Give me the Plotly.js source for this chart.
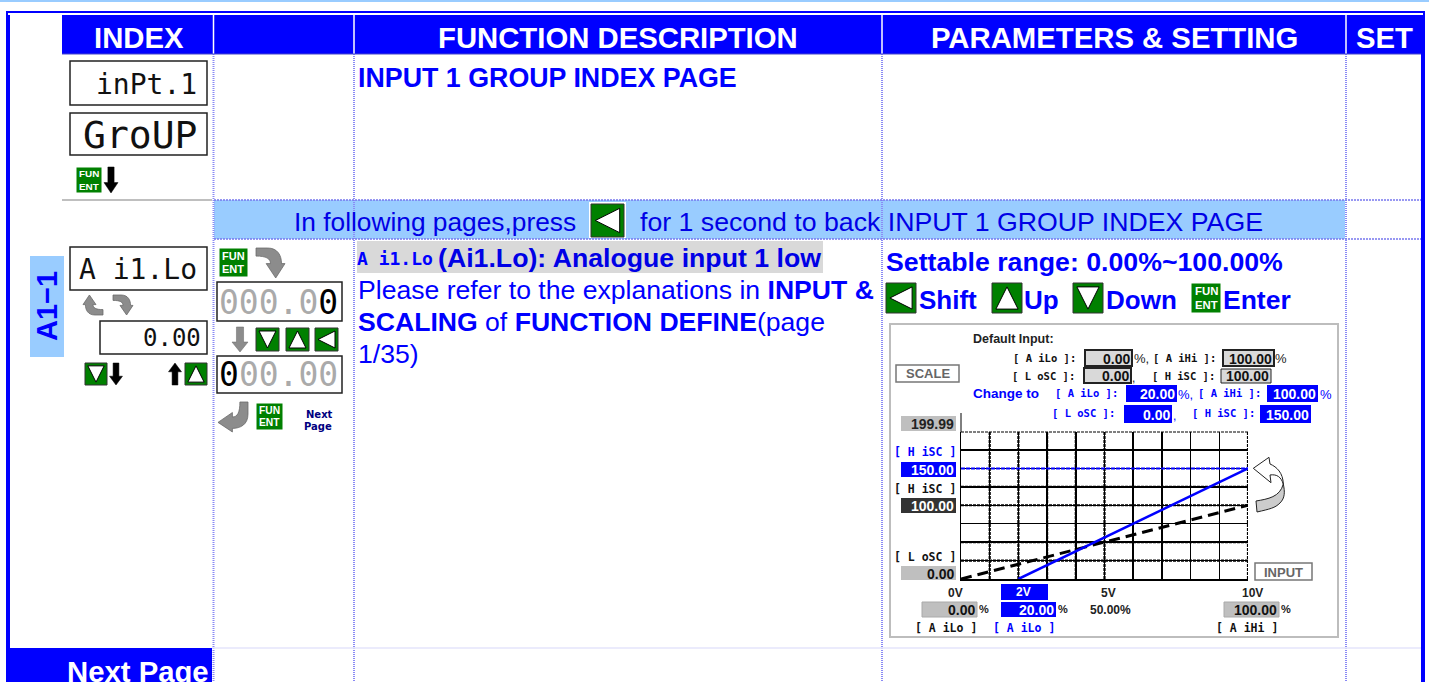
<!DOCTYPE html>
<html><head><meta charset="utf-8">
<script src="https://cdn.plot.ly/plotly-3.0.1.min.js"></script>
<style>html,body{margin:0;padding:0;background:#fff;overflow:hidden}#c{width:1429px;height:682px}</style>
</head><body><div id="c"></div>
<script>
// ---- chart values ----
const defaultVolts = [0, 10];
const defaultScale = [0, 100];
const changedVolts = [2, 10];
const changedScale = [0, 150];
const scaleLineVolts = [0, 10];
const scaleLineValue = [150, 150];
const voltTicks = [0,1,2,3,4,5,6,7,8,9,10];
const scaleTicks = [0,25,50,75,100,125,150,175,200];
const heavyVolts = [1,2,3,4,5,10];
const heavyScale = [25,50,100,125,200];
// ---- table text ----
const headers = ["INDEX","FUNCTION DESCRIPTION","PARAMETERS & SETTING","SET"];
const BLUE='#0000ff', SANS='"Liberation Sans",Arial,sans-serif', LCD='"DejaVu Sans Mono",monospace', W=1429, H=682;
const shapes=[], annotations=[];
const X=x=>x/W, Y=y=>1-y/H;
function rect(x0,y0,x1,y1,fill,line,lw){shapes.push({type:'rect',xref:'paper',yref:'paper',x0:X(x0),x1:X(x1),y0:Y(y0),y1:Y(y1),fillcolor:fill||'rgba(0,0,0,0)',line:{color:line||'rgba(0,0,0,0)',width:line?(lw||1):0},layer:'below'});}
function line(x0,y0,x1,y1,color,w,dash){shapes.push({type:'line',xref:'paper',yref:'paper',x0:X(x0),x1:X(x1),y0:Y(y0),y1:Y(y1),line:{color:color,width:w||1,dash:dash||'solid'},layer:'below'});}
function path(pts,fill,lc,lw){
  const d=pts.map(t=>Array.isArray(t)?X(t[0]).toFixed(5)+' '+Y(t[1]).toFixed(5):t).join(' ');
  shapes.push({type:'path',xref:'paper',yref:'paper',path:d,fillcolor:fill,line:{color:lc||fill,width:lw==null?1:lw},layer:'below'});
}
function T(text,x,y,size,color,anchor,o){o=o||{};annotations.push({xref:'paper',yref:'paper',x:X(x),y:Y(y),text:text,showarrow:false,xanchor:anchor||'center',yanchor:'middle',borderpad:0,borderwidth:0,textangle:o.angle||0,font:{family:o.family||SANS,size:size,color:color||BLUE}});}
function B(s){return '<b>'+s+'</b>';}
function key(x,y,s,dir){
  rect(x,y,x+s,y+s,'#008000','#333',1);
  const m=s*0.13,a=x+m,b=x+s-m,c=y+m,d=y+s-m,mx=x+s/2,my=y+s/2;
  let t;
  if(dir==='up')t=[[mx,c],[b,d],[a,d]];
  if(dir==='down')t=[[a,c],[b,c],[mx,d]];
  if(dir==='left')t=[[a,my],[b,c],[b,d]];
  path(['M',t[0],'L',t[1],'L',t[2],'Z'],'#fff','#000',1);
}
function fun(x,y,s){
  rect(x,y,x+s,y+s,'#008000','#ffffff',1);
  T(B('FUN'),x+s/2,y+s*0.26,s*0.38,'#fff');
  T(B('ENT'),x+s/2,y+s*0.74,s*0.38,'#fff');
}
function bent(x,y,w,h,o){
  o=o||{};
  const u=(a,b)=>{let p=a,q=b;if(o.swap){p=b;q=a;} if(o.fx)p=1-p; if(o.fy)q=1-q; return [x+p*w,y+q*h];};
  path(['M',u(0,0),'L',u(.4,0),'C',u(.75,0),u(.88,.25),u(.88,.52),'L',u(1,.52),'L',u(.68,1),'L',u(.35,.52),'L',u(.5,.52),'C',u(.5,.35),u(.35,.27),u(0,.27),'Z'],'#8c8c8c','#666',.75);
}
function arrowV(cx,y0,y1,w,color,up){
  const hw=w/2,sw=w/4.5,h=(y1-y0)*0.4;
  const pts=up?[[cx,y0],[cx+hw,y0+h],[cx+sw,y0+h],[cx+sw,y1],[cx-sw,y1],[cx-sw,y0+h],[cx-hw,y0+h]]
              :[[cx,y1],[cx+hw,y1-h],[cx+sw,y1-h],[cx+sw,y0],[cx-sw,y0],[cx-sw,y1-h],[cx-hw,y1-h]];
  const d=[];pts.forEach((p,i)=>{d.push(i?'L':'M',p);});d.push('Z');path(d,color,color==='#000'?'#000':'#666',.5);
}
function lbox(x0,y0,x1,y1,fill,text,color,size,border,bw){
  rect(x0,y0,x1,y1,fill,border,bw);
  T(B(text),x1-2,(y0+y1)/2+.5,size||14,color,'right');
}
function lcdLabel(text,x,y,color,anchor,size){T(B(text),x,y,size||10.5,color||'#111',anchor||'left',{family:LCD});}

// ---- page frame ----
rect(0,0,W,2,'#99ccff');
rect(6,11,10,682,BLUE);
rect(1421,11,1425,682,BLUE);
rect(6,11,1425,13,BLUE);
rect(8,13,1423,15,'#fff');
rect(62,15,1421,54,BLUE);
rect(6,648,212,682,BLUE);
rect(214,200,1345,239,'#99ccff');
line(62,200,212,200,'#aaaaaa',1.5);
[213.5,354,882,1346].forEach(x=>{
  line(x,15,x,54,'#ffffff',1.5);
  line(x,54,x,682,'#8a8af5',2,'1px,1px');
});
line(62,54,1421,54,'#4444cc',1);
line(214,200,1421,200,'#7777ee',1.5,'2px,1px');
line(214,239,1421,239,'#7777ee',1.5,'2px,1px');
line(212,648,1421,648,'#e4e4fb',1.5);

// ---- headers ----
T(B(headers[0]),138.5,38,29.3,'#fff');
T(B(headers[1]),618,38,29.3,'#fff');
T(B(headers[2]),1114,38,29.3,'#fff');
T(B(headers[3]),1384,38,29.3,'#fff');
T(B('Next Page'),209,671,29.3,'#fff','right');

// ---- index column ----
rect(70,61,207,105,'#fff','#222',1.5);
T('inPt.1',197,84,28,'#111','right',{family:LCD});
rect(70,113,207,155,'#fff','#222',1.5);
T('GroUP',197,135,38,'#111','right',{family:LCD});
fun(76,167,26);
arrowV(111,167,193,14,'#000');
T(B('INPUT 1 GROUP INDEX PAGE'),358,78,26.8,BLUE,'left');

// ---- band ----
T('In following pages,press',294,222,26.3,'#0000e6','left');
rect(589,202,626,238,'#fff');
key(591,204,33,'left');
T('for 1 second to back INPUT 1 GROUP INDEX PAGE',640,222,26.7,'#0000e6','left');

// ---- A1-1 row, left ----
rect(30,256,64,357,'#99ccff');
T(B('A1−1'),47,306,29,BLUE,'center',{angle:-90});
rect(70,247,207,290,'#fff','#222',1.5);
T('A i1.Lo',197,269,28,'#111','right',{family:LCD});
bent(83,295,20,20,{fx:true,fy:true});
bent(113,295,20,20);
rect(100,321,207,354,'#fff','#222',1.5);
T('0.00',201,338,24,'#111','right',{family:LCD});
key(85,363,22,'down');
arrowV(116,363,385,13,'#000');
arrowV(175,363,385,13,'#000',true);
key(185,363,22,'up');

fun(219,248,29);
bent(256,248,29,30);
rect(217,282,342,321,'#fff','#222',1.5);
T('<span style="color:#aaaaaa">000.0</span><span style="color:#000">0</span>',338,302,33,'#000','right',{family:LCD});
arrowV(240,327,352,16,'#8c8c8c');
key(256,328,23,'down'); key(286,328,23,'up'); key(315,328,23,'left');
rect(217,356,342,393,'#fff','#222',1.5);
T('<span style="color:#000">0</span><span style="color:#aaaaaa">00.00</span>',338,375,33,'#000','right',{family:LCD});
bent(218,402,30,30,{swap:true,fx:true});
fun(256,403,27);
T(B('Next'),319,414,10,'#000080','center',{family:'"DejaVu Sans",sans-serif'});
T(B('Page'),318,426,10,'#000080','center',{family:'"DejaVu Sans",sans-serif'});

// ---- description ----
rect(357,241,823,273,'#d9d9d9');
T(B('A i1.Lo'),357,258,18,BLUE,'left',{family:LCD});
T(B('(Ai1.Lo): Analogue input 1 low'),438,258,26.7,'#0000e6','left');
T('Please refer to the explanations in '+B('INPUT &'),358,290,26.6,BLUE,'left');
T(B('SCALING')+' of '+B('FUNCTION DEFINE')+'(page',358,322,26.6,BLUE,'left');
T('1/35)',358,354,26.6,BLUE,'left');

// ---- parameters ----
T(B('Settable range: 0.00%~100.00%'),886,262,26.7,BLUE,'left');
key(886,283,30,'left'); T(B('Shift'),919,300,26,BLUE,'left');
key(992,283,30,'up'); T(B('Up'),1024,300,26,BLUE,'left');
key(1073,283,30,'down'); T(B('Down'),1106,300,26,BLUE,'left');
fun(1191,283,30); T(B('Enter'),1223,300,26.5,BLUE,'left');

// ---- inner figure frame ----
rect(890,324,1338,637,'#fff','#bdbdbd',2);
T(B('Default Input:'),973,339,12.5,'#222','left');
lcdLabel('[ A iLo ]:',1013,358);
lbox(1085,350,1132,366,'#d9d9d9','0.00','#111',14,'#222',2);
T('%,',1134,358,13,'#222','left');
lcdLabel('[ A iHi ]:',1153,358);
lbox(1223,350,1274,366,'#d9d9d9','100.00','#111',14,'#222',2);
T('%',1275,358,13,'#222','left');
lcdLabel('[ L oSC ]:',1012,376);
lbox(1084,368,1131,383,'#d9d9d9','0.00','#111',14,'#222',2);
T(',',1132,378,12,'#222','left');
lcdLabel('[ H iSC ]:',1152,376);
lbox(1221,369,1271,383,'#d9d9d9','100.00','#111',14,'#222',1);
T(B('Change to'),973,393,13.5,BLUE,'left');
lcdLabel('[ A iLo ]:',1055,393,BLUE);
lbox(1126,385,1177,402,BLUE,'20.00','#fff',14);
T('%,',1178,394,13,BLUE,'left');
lcdLabel('[ A iHi ]:',1198,393,BLUE);
lbox(1267,385,1318,402,BLUE,'100.00','#fff',14);
T('%',1320,394,13,BLUE,'left');
lcdLabel('[ L oSC ]:',1052,413,BLUE);
lbox(1124,405,1172,423,BLUE,'0.00','#fff',14);
T(',',1173,416,12,BLUE,'left');
lcdLabel('[ H iSC ]:',1192,413,BLUE);
lbox(1260,405,1311,423,BLUE,'150.00','#fff',14);

rect(896,365,959,382,'#fff','#777',1.5);
T(B('SCALE'),927.5,373.5,13,'#666');
lbox(901,416,956,431,'#bfbfbf','199.99','#222',14);
lcdLabel('[ H iSC ]',956,452,BLUE,'right',11.5);
lbox(901,462,956,477,BLUE,'150.00','#fff',14);
lcdLabel('[ H iSC ]',956,489,'#111','right',11.5);
lbox(901,498,956,513,'#333','100.00','#fff',14);
lcdLabel('[ L oSC ]',956,557,'#111','right',11.5);
lbox(901,566,956,580,'#bfbfbf','0.00','#111',14);
rect(1255,563,1312,580,'#fff','#777',1.5);
T(B('INPUT'),1283.5,572,13,'#666');

// x labels
T(B('0V'),955,593,12,'#222');
rect(1001,584,1048,600,BLUE); T(B('2V'),1024,592,12,'#fff');
T(B('5V'),1108,593,12,'#222');
T(B('10V'),1252,593,12,'#222');
lbox(922,602,977,617,'#bfbfbf','0.00','#111',14,'#aaa',1);
T(B('%'),979,609,11,'#222','left');
lbox(1001,602,1056,617,BLUE,'20.00','#fff',14);
T(B('%'),1058,609,11,'#222','left');
T(B('50.00%'),1110,610,12,'#222');
lbox(1224,602,1279,617,'#bfbfbf','100.00','#111',14,'#aaa',1);
T(B('%'),1281,609,11,'#222','left');
lcdLabel('[ A iLo ]',946,628,'#111','center',11.5);
lcdLabel('[ A iLo ]',1024,628,BLUE,'center',11.5);
lcdLabel('[ A iHi ]',1247,628,'#111','center',11.5);

// axis stub above the grid
line(961,413,961,432,'#000',1);
// curved arrow
path(['M',[1283.3,484],'C',[1285,492],[1285,498],[1280,503],'C',[1275,508],[1270,509],[1257,512],'L',[1256,501],'C',[1268,499],[1280,497],[1283.3,484],'Z'],'#cccccc','#222',1);
path(['M',[1253.3,468.3],'L',[1269,457.3],'L',[1270,464],'C',[1277,467],[1283,473],[1283.3,484],'C',[1281,477],[1277,474],[1270,475],'L',[1271,482.7],'Z'],'#ffffff','#222',1);

// ---- traces ----
function heavy(xs,ys){return {x:xs,y:ys,mode:'lines',hoverinfo:'skip',showlegend:false,line:{color:'#000',width:2.2,dash:'3px,1px'}};}
const traces=[];
heavyVolts.forEach(v=>traces.push(heavy([v,v],[scaleTicks[0],scaleTicks[scaleTicks.length-1]])));
heavyScale.forEach(s=>traces.push(heavy([voltTicks[0],voltTicks[voltTicks.length-1]],[s,s])));
traces.push({x:scaleLineVolts,y:scaleLineValue,mode:'lines',showlegend:false,hoverinfo:'skip',line:{color:BLUE,width:2,dash:'4px,1px'}});
traces.push({x:defaultVolts,y:defaultScale,mode:'lines',showlegend:false,line:{color:'#000',width:3,dash:'11px,6px'}});
traces.push({x:changedVolts,y:changedScale,mode:'lines',showlegend:false,line:{color:BLUE,width:2.5}});

const layout={width:W,height:H,margin:{l:0,r:0,t:0,b:0},paper_bgcolor:'#fff',plot_bgcolor:'rgba(0,0,0,0)',showlegend:false,shapes:shapes,annotations:annotations,
  xaxis:{domain:[961/W,1248/W],range:[0,10],tickvals:voltTicks,showticklabels:false,ticks:'',zeroline:false,showline:true,linecolor:'#000',linewidth:1.5,showgrid:true,gridcolor:'#000',gridwidth:1.5,fixedrange:true},
  yaxis:{domain:[1-579/H,1-431.5/H],range:[0,200],tickvals:scaleTicks,showticklabels:false,ticks:'',zeroline:false,showline:true,linecolor:'#000',linewidth:1.5,showgrid:true,gridcolor:'#000',gridwidth:1.5,fixedrange:true}};
Plotly.newPlot('c',traces,layout,{displayModeBar:false,staticPlot:true});
</script></body></html>
